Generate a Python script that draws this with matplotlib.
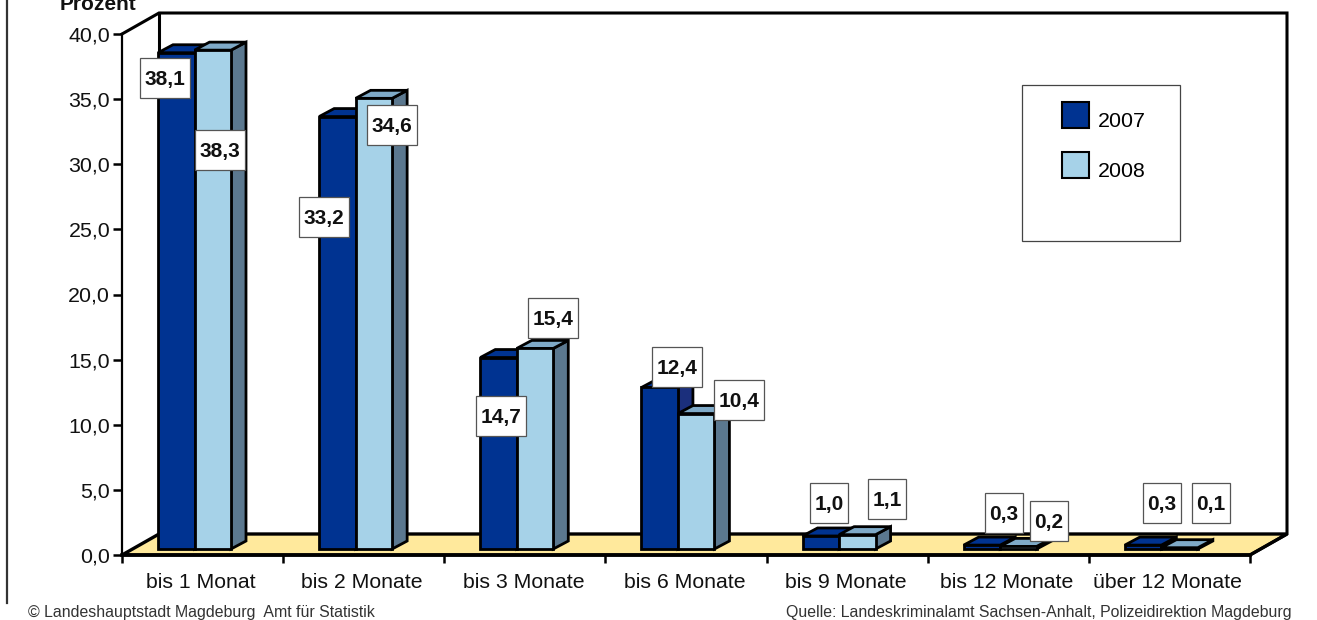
"""Regrouped 3D-look bar chart: Prozent per duration class, 2007 vs 2008."""

import matplotlib
matplotlib.use("Agg")
import matplotlib.pyplot as plt
from matplotlib.patches import Patch, Polygon, Rectangle

plt.rcParams["font.family"] = ["Liberation Sans", "DejaVu Sans"]

categories = ["bis 1 Monat", "bis 2 Monate", "bis 3 Monate", "bis 6 Monate",
              "bis 9 Monate", "bis 12 Monate", "über 12 Monate"]
values_2007 = [38.1, 33.2, 14.7, 12.4, 1.0, 0.3, 0.3]
values_2008 = [38.3, 34.6, 15.4, 10.4, 1.1, 0.2, 0.1]
yticks = [0, 5, 10, 15, 20, 25, 30, 35, 40]

W, H = 1317, 620
X0, X1, Y0, Y1 = 122, 1250, 555, 34     # front plane of the plot, in pixels
DEPTH = (37, -21)                       # wall offset, pixels
BAR_DEPTH = (15, -8)
BAR_W = 36.5
BAR_INSET = 36
BAR_LIFT = 6

DARK = "#003391"
DARK_TOP = "#003391"
DARK_SIDE = "#1B2F7C"
LIGHT = "#A6D2E8"
LIGHT_TOP = "#7FAAC8"
LIGHT_SIDE = "#5B788F"
FLOOR = "#FFE99C"

# label box centres in pixels, same order as the values
pos_2007 = [(165, 78), (324, 217), (501, 416), (677, 367), (829, 503), (1004, 513), (1162, 503)]
pos_2008 = [(220, 150), (392, 125), (553, 318), (739, 400), (887, 499), (1049, 521), (1211, 503)]

fig = plt.figure(figsize=(W / 100, H / 100), dpi=100)
ax = fig.add_axes([X0 / W, 1 - Y0 / H, (X1 - X0) / W, (Y0 - Y1) / H])
ax.set_xlim(0, len(categories))
ax.set_ylim(0, 40)
ax.patch.set_visible(False)

ux = (X1 - X0) / len(categories)        # pixels per category
uy = (Y0 - Y1) / 40                     # pixels per percent
dx, dy = DEPTH[0] / ux, -DEPTH[1] / uy
bx, by = BAR_DEPTH[0] / ux, -BAR_DEPTH[1] / uy
n = len(categories)


def poly(pts, color, z, lw=2.0, ec="black"):
    ax.add_patch(Polygon(pts, closed=True, fc=color, ec=ec, lw=lw, zorder=z,
                         clip_on=False, joinstyle="miter"))


def bar3d(x, v, front, top, side, z):
    w = BAR_W / ux
    base = BAR_LIFT / uy
    t = base + v
    poly([(x + w, base), (x + w + bx, base + by), (x + w + bx, t + by), (x + w, t)], side, z)
    poly([(x, t), (x + bx, t + by), (x + w + bx, t + by), (x + w, t)], top, z)
    poly([(x, base), (x + w, base), (x + w, t), (x, t)], front, z)


# floor and back walls
poly([(0, 0), (dx, dy), (n + dx, dy), (n, 0)], FLOOR, 1, lw=2.4)
ax.plot([0, dx, n + dx, n + dx, n], [40, 40 + dy, 40 + dy, dy, 0], color="black",
        lw=2.2, clip_on=False, zorder=1.5, solid_joinstyle="miter")
ax.plot([dx, dx], [dy, 40 + dy], color="black", lw=2.2, clip_on=False, zorder=1.5)

for i in range(n):
    x = i + BAR_INSET / ux
    z = 2 + i
    bar3d(x, values_2007[i], DARK, DARK_TOP, DARK_SIDE, z)
    bar3d(x + BAR_W / ux, values_2008[i], LIGHT, LIGHT_TOP, LIGHT_SIDE, z + 0.5)

for sp in ("top", "right"):
    ax.spines[sp].set_visible(False)
ax.spines["left"].set_linewidth(1.6)
ax.spines["bottom"].set_linewidth(2.6)
for sp in ax.spines.values():
    sp.set_zorder(20)

ax.set_yticks(yticks)
ax.set_yticklabels([f"{t:.1f}".replace(".", ",") for t in yticks], fontsize=15.4, color="#111111")
ax.set_xticks(range(n + 1))
ax.set_xticklabels([])
ax.tick_params(axis="y", length=6.5, width=1.8, pad=2)
ax.tick_params(axis="x", length=6, width=1.8)
for i, c in enumerate(categories):
    ax.text(i + 0.5, -26 / uy, c, ha="center", va="center", fontsize=15.3, color="#111111",
            transform=ax.transData + matplotlib.transforms.Affine2D().translate(-1.5, -1.5))


def px(x, y):
    return x / W, 1 - y / H


def value_label(v, centre):
    s = f"{v:.1f}".replace(".", ",")
    bw = 50 if v >= 10 else 38
    bh = 40
    cx, cy = centre
    fig.add_artist(Rectangle(px(cx - bw / 2, cy + bh / 2), bw / W, bh / H,
                             transform=fig.transFigure, fc="white", ec="#555555",
                             lw=0.9, zorder=30))
    fig.text(*px(cx, cy + 1.5), s, ha="center", va="center", fontsize=15,
             fontweight="bold", color="#111111", zorder=31)


for v, p in zip(values_2007 + values_2008, pos_2007 + pos_2008):
    value_label(v, p)

# legend: frame is taller than its entries
ax.add_patch(Rectangle(px(1022, 241), 158 / W, 156 / H, transform=fig.transFigure,
                       fc="white", ec="#444444", lw=0.9, zorder=15, clip_on=False))
handles = [Patch(fc=DARK, ec="black", lw=1.5, label="2007"),
           Patch(fc=LIGHT, ec="black", lw=1.5, label="2008")]
leg = ax.legend(handles=handles, loc="upper left", bbox_to_anchor=px(1062, 102),
                bbox_transform=fig.transFigure, frameon=False, fontsize=15.4,
                handlelength=1.25, handleheight=1.5, handletextpad=0.45,
                labelspacing=1.1, borderpad=0, borderaxespad=0)
leg.set_zorder(16)
for t in leg.get_texts():
    t.set_position((0, -5))

fig.text(*px(60, 10), "Prozent", fontsize=15, fontweight="bold", color="#111111", va="baseline")
fig.text(*px(28, 613), "© Landeshauptstadt Magdeburg  Amt für Statistik", fontsize=11.4,
         color="#333333", va="center")
fig.text(*px(1292, 613), "Quelle: Landeskriminalamt Sachsen-Anhalt, Polizeidirektion Magdeburg",
         fontsize=11.4, color="#333333", va="center", ha="right")
fig.add_artist(plt.Line2D([7 / W, 7 / W], [1 - 603 / H, 1], color="#333333", lw=1.6,
                          transform=fig.transFigure))

fig.savefig("out.png", dpi=100)
